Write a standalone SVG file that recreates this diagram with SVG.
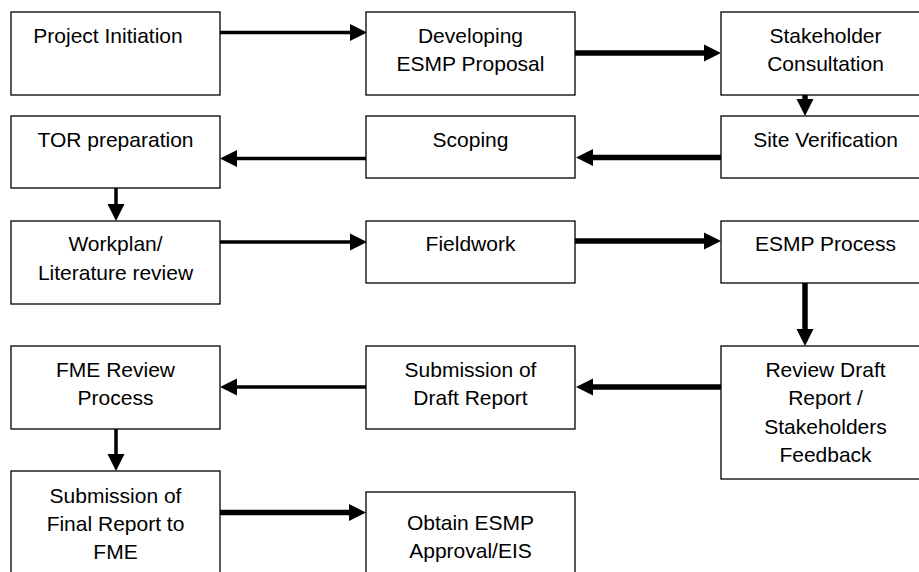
<svg xmlns="http://www.w3.org/2000/svg" width="919" height="572" viewBox="0 0 919 572">
<defs>
<style>
.box{fill:#fff;stroke:#000;stroke-width:1.3}
.t{font-family:"Liberation Sans",Arial,sans-serif;font-size:21px;fill:#000;text-anchor:middle}
.c{stroke:#000;fill:none}
.thin{stroke-width:3.5}
.thick{stroke-width:5.5}
</style>
<marker id="ah" markerUnits="userSpaceOnUse" markerWidth="18" markerHeight="18" refX="0" refY="9" orient="auto" viewBox="0 0 18 18">
<path d="M0,0.5 L17,9 L0,17.5 z" fill="#000"/>
</marker>
</defs>
<rect width="919" height="572" fill="#fff"/>
<g id="connectors">
<line class="c thin" x1="220" y1="32.5" x2="350" y2="32.5" marker-end="url(#ah)"/>
<line class="c thick" x1="575" y1="53" x2="704" y2="53" marker-end="url(#ah)"/>
<line class="c thick" x1="805" y1="95" x2="805" y2="99" marker-end="url(#ah)"/>
<line class="c thick" x1="721" y1="157.5" x2="593" y2="157.5" marker-end="url(#ah)"/>
<line class="c thin" x1="366" y1="158.5" x2="237" y2="158.5" marker-end="url(#ah)"/>
<line class="c thin" x1="116" y1="188" x2="116" y2="204" marker-end="url(#ah)"/>
<line class="c thin" x1="220" y1="242" x2="350" y2="242" marker-end="url(#ah)"/>
<line class="c thick" x1="575" y1="241" x2="704" y2="241" marker-end="url(#ah)"/>
<line class="c thick" x1="805" y1="283" x2="805" y2="329" marker-end="url(#ah)"/>
<line class="c thick" x1="721" y1="387" x2="593" y2="387" marker-end="url(#ah)"/>
<line class="c thin" x1="366" y1="387" x2="237" y2="387" marker-end="url(#ah)"/>
<line class="c thin" x1="116" y1="429" x2="116" y2="454" marker-end="url(#ah)"/>
<line class="c thick" x1="220" y1="512.5" x2="349" y2="512.5" marker-end="url(#ah)"/>
</g>
<g id="n1"><rect class="box" x="11" y="12" width="209" height="83"/><text class="t" x="108" y="42.5">Project Initiation</text></g>
<g id="n2"><rect class="box" x="366" y="12" width="209" height="83"/><text class="t" x="470.5" y="42.5">Developing</text><text class="t" x="470.5" y="71">ESMP Proposal</text></g>
<g id="n3"><rect class="box" x="721" y="12" width="209" height="83"/><text class="t" x="825.5" y="42.5">Stakeholder</text><text class="t" x="825.5" y="71">Consultation</text></g>
<g id="n4"><rect class="box" x="721" y="116" width="209" height="62"/><text class="t" x="825.5" y="147">Site Verification</text></g>
<g id="n5"><rect class="box" x="366" y="116" width="209" height="62"/><text class="t" x="470.5" y="147">Scoping</text></g>
<g id="n6"><rect class="box" x="11" y="116" width="209" height="72"/><text class="t" x="115.5" y="147">TOR preparation</text></g>
<g id="n7"><rect class="box" x="11" y="221" width="209" height="83"/><text class="t" x="115.5" y="251">Workplan/</text><text class="t" x="115.5" y="280">Literature review</text></g>
<g id="n8"><rect class="box" x="366" y="221" width="209" height="62"/><text class="t" x="470.5" y="251">Fieldwork</text></g>
<g id="n9"><rect class="box" x="721" y="221" width="209" height="62"/><text class="t" x="825.5" y="251">ESMP Process</text></g>
<g id="n10"><rect class="box" x="721" y="346" width="209" height="133"/><text class="t" x="825.5" y="376.5">Review Draft</text><text class="t" x="825.5" y="405">Report /</text><text class="t" x="825.5" y="433.5">Stakeholders</text><text class="t" x="825.5" y="462">Feedback</text></g>
<g id="n11"><rect class="box" x="366" y="346" width="209" height="83"/><text class="t" x="470.5" y="376.5">Submission of</text><text class="t" x="470.5" y="405">Draft Report</text></g>
<g id="n12"><rect class="box" x="11" y="346" width="209" height="83"/><text class="t" x="115.5" y="376.5">FME Review</text><text class="t" x="115.5" y="405">Process</text></g>
<g id="n13"><rect class="box" x="11" y="471" width="209" height="120"/><text class="t" x="115.5" y="502.5">Submission of</text><text class="t" x="115.5" y="531">Final Report to</text><text class="t" x="115.5" y="559">FME</text></g>
<g id="n14"><rect class="box" x="366" y="492" width="209" height="100"/><text class="t" x="470.5" y="530">Obtain ESMP</text><text class="t" x="470.5" y="558">Approval/EIS</text></g>
</svg>
